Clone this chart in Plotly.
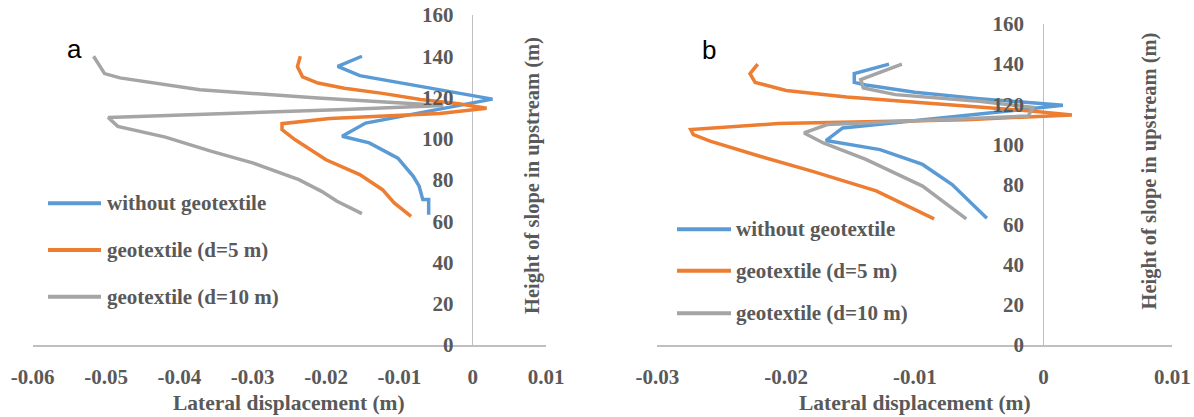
import plotly.graph_objects as go

# ---------------- data ----------------
series_names = ["without geotextile", "geotextile (d=5 m)", "geotextile (d=10 m)"]
series_colors = ["#5B9BD5", "#ED7D31", "#A5A5A5"]

# Panel a
a_blue_x = [-0.0151, -0.0184, -0.0154, -0.0062, 0.0027, -0.0146, -0.0178, -0.0141, -0.0126,
            -0.0102, -0.0081, -0.0073, -0.0068, -0.0060, -0.0060]
a_blue_y = [140, 135.1, 130.6, 125.0, 119.2, 107.6, 101.2, 98.0, 95.3,
            90.6, 81.8, 77.0, 70.5, 70.5, 63.2]

a_orange_x = [-0.0235, -0.0239, -0.0232, -0.0211, -0.0175, -0.0123, -0.0071, -0.0019, 0.0019,
              -0.0045, -0.0195, -0.0260, -0.0260, -0.0242, -0.0200, -0.0154, -0.0123, -0.0107, -0.0084]
a_orange_y = [140, 135, 130, 127, 124.5, 122, 119, 117, 114.8,
              112.2, 109.8, 107.3, 104.4, 99.5, 89.8, 82.6, 75.3, 68.9, 62.4]

a_gray_x = [-0.0517, -0.0502, -0.0481, -0.0440, -0.0372, -0.0211, -0.0097, -0.0040, -0.0175,
            -0.0497, -0.0484, -0.0419, -0.0356, -0.0299, -0.0237, -0.0206, -0.0185, -0.0151]
a_gray_y = [140, 131.6, 129.5, 127.3, 123.8, 119.7, 117.3, 116.1, 114.2,
            110.3, 106.0, 100.8, 93.9, 88.2, 80.2, 74.5, 69.7, 63.7]

# Panel b
b_blue_x = [-0.0120, -0.0147, -0.0147, -0.0138, -0.0100, -0.0050, 0.0015, -0.0049, -0.0112,
            -0.0156, -0.0169, -0.0127, -0.0094, -0.0071, -0.0056, -0.0044]
b_blue_y = [140, 135.3, 130.9, 129.6, 126.0, 122.8, 119.5, 115.0, 111.0,
            108.2, 101.9, 97.4, 90.0, 80.0, 70.9, 63.2]

b_orange_x = [-0.0222, -0.0228, -0.0224, -0.0200, -0.0153, -0.0109, -0.0050, -0.0012, 0.0022,
              -0.0060, -0.0206, -0.0274, -0.0272, -0.0259, -0.0221, -0.0180, -0.0130, -0.0085]
b_orange_y = [140, 135.2, 130.9, 126.9, 123.6, 121.5, 118.7, 116.8, 114.7,
              112.3, 110.4, 107.4, 104.9, 101.6, 94.2, 86.7, 76.8, 62.9]

b_gray_x = [-0.0110, -0.0142, -0.0140, -0.0115, -0.0050, -0.0008, -0.0012, -0.0127, -0.0168,
            -0.0186, -0.0171, -0.0138, -0.0094, -0.0060]
b_gray_y = [140, 132.3, 128.1, 124.8, 121.5, 118.4, 114.1, 111.3, 109.9,
            105.7, 100.7, 92.5, 79.2, 62.9]

a_xticks = [-0.06, -0.05, -0.04, -0.03, -0.02, -0.01, 0, 0.01]
a_xticktext = ["-0.06", "-0.05", "-0.04", "-0.03", "-0.02", "-0.01", "0", "0.01"]
b_xticks = [-0.03, -0.02, -0.01, 0, 0.01]
b_xticktext = ["-0.03", "-0.02", "-0.01", "0", "0.01"]
yticks = [0, 20, 40, 60, 80, 100, 120, 140, 160]

x_title = "Lateral displacement (m)"
y_title = "Height of slope in upstream (m)"
panel_labels = ["a", "b"]

# ---------------- figure ----------------
W, H = 1194, 417
TXT = "#595959"
AX = "#BFBFBF"
FAM = "Liberation Serif, Times New Roman, serif"
TICKF = dict(family=FAM, size=21, color=TXT, weight=700)
XTITLEF = dict(family=FAM, size=21.5, color=TXT, weight=700)
YTITLEF = dict(family=FAM, size=20.5, color=TXT, weight=700)
LEGF = dict(family=FAM, size=21, color=TXT, weight=700)


def fx(px):
    return px / W


def fy(py):
    return 1 - py / H


fig = go.Figure()

panels = [
    ("x", "y", [(a_blue_x, a_blue_y), (a_orange_x, a_orange_y), (a_gray_x, a_gray_y)]),
    ("x2", "y2", [(b_blue_x, b_blue_y), (b_orange_x, b_orange_y), (b_gray_x, b_gray_y)]),
]
for xa, ya, data in panels:
    for (xs, ys), name, col in zip(data, series_names, series_colors):
        fig.add_trace(go.Scatter(x=xs, y=ys, mode="lines", name=name, xaxis=xa, yaxis=ya,
                                 line=dict(color=col, width=3.5), showlegend=False,
                                 hoverinfo="skip"))

# pixel geometry
a_x0, a_x1, a_y0, a_y1 = 32.7, 546.0, 15.0, 345.0
b_x0, b_x1, b_y0, b_y1 = 657.3, 1172.3, 24.0, 345.0
a_zero_px = 472.7
b_zero_px = 1043.3

common_x = dict(showline=True, linecolor=AX, linewidth=1.5, zeroline=True, zerolinecolor=AX,
                zerolinewidth=1.5, showgrid=False, ticks="outside", ticklen=12,
                tickcolor="rgba(0,0,0,0)", tickfont=TICKF, fixedrange=True, automargin=False)
common_y = dict(showline=False, zeroline=False, showgrid=False, ticks="outside", ticklen=15,
                tickcolor="rgba(0,0,0,0)", tickfont=TICKF, range=[0, 160], tickvals=yticks,
                anchor="free", fixedrange=True, automargin=False)

fig.update_layout(
    template="none",
    width=W, height=H,
    margin=dict(l=0, r=0, t=0, b=0, pad=0),
    paper_bgcolor="white", plot_bgcolor="white",
    showlegend=False,
    xaxis=dict(domain=[fx(a_x0), fx(a_x1)], range=[-0.06, 0.01], tickvals=a_xticks,
               ticktext=a_xticktext, anchor="y", **common_x),
    yaxis=dict(domain=[fy(a_y1), fy(a_y0)], position=fx(a_zero_px), **common_y),
    xaxis2=dict(domain=[fx(b_x0), fx(b_x1)], range=[-0.03, 0.01], tickvals=b_xticks,
                ticktext=b_xticktext, anchor="y2", **common_x),
    yaxis2=dict(domain=[fy(b_y1), fy(b_y0)], position=fx(b_zero_px), **common_y),
)

annotations = []
shapes = []
# axis titles
for cx in [(a_x0 + a_x1) / 2, (b_x0 + b_x1) / 2]:
    annotations.append(dict(text=x_title, x=fx(cx), y=fy(403), xref="paper", yref="paper",
                            xanchor="center", yanchor="middle", showarrow=False, font=XTITLEF))
for cx, cy in [(532, 176), (1149, 171.5)]:
    annotations.append(dict(text=y_title, x=fx(cx), y=fy(cy), xref="paper", yref="paper",
                            xanchor="center", yanchor="middle", showarrow=False, textangle=-90,
                            font=YTITLEF))
# panel labels
for lab, (cx, cy) in zip(panel_labels, [(74, 49), (709, 50)]):
    annotations.append(dict(text=lab, x=fx(cx), y=fy(cy), xref="paper", yref="paper",
                            xanchor="center", yanchor="middle", showarrow=False,
                            font=dict(family="Liberation Sans, Arial, sans-serif", size=26,
                                      color="black")))
# manual legends
legend_specs = [
    (48, 101, 105, [203.3, 250, 296.7]),
    (677, 731, 734, [229.3, 270.7, 313.3]),
]
for lx0, lx1, tx, rows in legend_specs:
    for name, col, ry in zip(series_names, series_colors, rows):
        shapes.append(dict(type="line", xref="paper", yref="paper", x0=fx(lx0), x1=fx(lx1),
                           y0=fy(ry), y1=fy(ry), line=dict(color=col, width=4)))
        annotations.append(dict(text=name, x=fx(tx), y=fy(ry), xref="paper", yref="paper",
                                xanchor="left", yanchor="middle", showarrow=False, font=LEGF))

fig.update_layout(annotations=annotations, shapes=shapes)
fig.write_html(
    "out.html",
    config={"displayModeBar": False, "staticPlot": True},
    post_script="document.body.style.margin='0';document.body.style.padding='0';"
                "document.body.style.overflow='hidden';",
)
